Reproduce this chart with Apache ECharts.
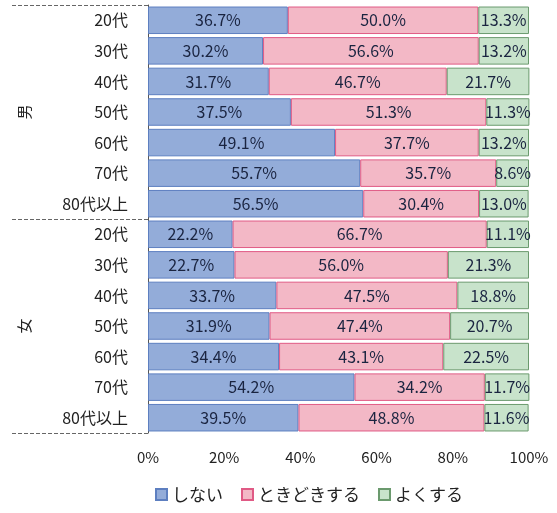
<!DOCTYPE html>
<html>
<head>
<meta charset="utf-8">
<script src="https://cdn.jsdelivr.net/npm/echarts@6/dist/echarts.min.js"></script>
<style>
  html, body { margin: 0; padding: 0; background: #fff; }
  #main { width: 557px; height: 513px; }
</style>
</head>
<body>
<div id="main"></div>
<script>
// 年代（男 7 + 女 7）
var ages = ['20代', '30代', '40代', '50代', '60代', '70代', '80代以上',
            '20代', '30代', '40代', '50代', '60代', '70代', '80代以上'];
var groups = ['男', '女'];
var xTicks = ['0%', '20%', '40%', '60%', '80%', '100%'];

// 割合 (%)
var shinai      = [36.7, 30.2, 31.7, 37.5, 49.1, 55.7, 56.5, 22.2, 22.7, 33.7, 31.9, 34.4, 54.2, 39.5];
var tokidoki    = [50.0, 56.6, 46.7, 51.3, 37.7, 35.7, 30.4, 66.7, 56.0, 47.5, 47.4, 43.1, 34.2, 48.8];
var yokusuru    = [13.3, 13.2, 21.7, 11.3, 13.2, 8.6, 13.0, 11.1, 21.3, 18.8, 20.7, 22.5, 11.7, 11.6];

var font = '"Noto Sans CJK JP", sans-serif';

var myChart = echarts.init(document.getElementById('main'));

function makeSeries(name, data, fill, border) {
    return {
        name: name,
        type: 'bar',
        stack: 'total',
        data: data,
        barCategoryGap: '10%',
        itemStyle: { color: fill, borderColor: border, borderWidth: 1 },
        label: {
            show: true,
            position: 'inside',
            color: '#1a2440',
            fontFamily: font,
            fontSize: 16,
            formatter: function (p) { return p.value.toFixed(1) + '%'; }
        }
    };
}

var option = {
    animation: false,
    backgroundColor: '#fff',
    grid: { left: 148, right: 28, top: 5, bottom: 80 },
    xAxis: {
        type: 'value',
        min: 0,
        max: 100,
        interval: 20,
        axisLine: { show: false },
        splitLine: { show: false },
        axisLabel: {
            margin: 17,
            color: '#222',
            fontFamily: font,
            fontSize: 15,
            formatter: function (v) { return xTicks[v / 20]; }
        }
    },
    yAxis: [{
        type: 'category',
        data: ages,
        inverse: true,
        axisLine: { show: true, lineStyle: { color: '#555', width: 1 } },
        axisTick: { show: false },
        axisLabel: { margin: 20, color: '#222', fontFamily: font, fontSize: 16 }
    }, {
        type: 'category',
        data: groups,
        inverse: true,
        position: 'left',
        axisLine: { show: false },
        axisTick: { show: true, length: 138, lineStyle: { color: '#666', type: 'dashed' } },
        axisLabel: { margin: 116, rotate: 90, color: '#222', fontFamily: font, fontSize: 15 }
    }],
    legend: {
        bottom: 5,
        left: 150,
        itemWidth: 11,
        itemHeight: 11,
        itemGap: 18,
        icon: 'rect',
        textStyle: { color: '#222', fontFamily: font, fontSize: 17 }
    },
    series: [
        makeSeries('しない', shinai, '#93acd9', '#5d7fc0'),
        makeSeries('ときどきする', tokidoki, '#f3b8c6', '#e05a85'),
        makeSeries('よくする', yokusuru, '#c8e3cb', '#6b9a6e')
    ]
};

myChart.setOption(option);
</script>
</body>
</html>
